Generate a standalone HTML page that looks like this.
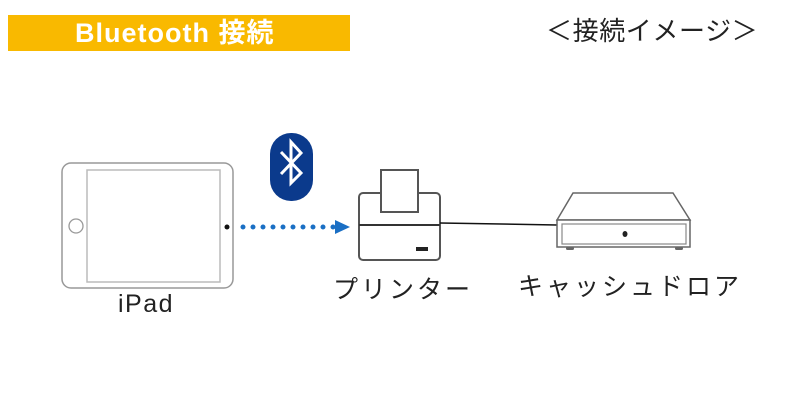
<!DOCTYPE html>
<html><head><meta charset="utf-8"><style>
body{margin:0;width:800px;height:401px;background:#fff;overflow:hidden;position:relative;font-family:"Liberation Sans","Noto Sans CJK JP",sans-serif}
.t{position:absolute;white-space:nowrap;color:#222}
</style></head><body>
<div style="position:absolute;left:8px;top:15px;width:342px;height:36px;background:#f9b900"></div>
<div class="t" style="left:75px;top:16px;font-size:27px;font-weight:bold;color:#fff;line-height:34px;letter-spacing:1px">Bluetooth 接続</div>
<div class="t" style="left:546px;top:14px;font-size:26px;line-height:34px;letter-spacing:0.6px">＜接続イメージ＞</div>
<svg width="800" height="401" style="position:absolute;left:0;top:0">
<rect x="62" y="163" width="171" height="125" rx="9" fill="#fff" stroke="#999" stroke-width="1.5"/>
<rect x="87" y="170" width="133" height="112" fill="#fff" stroke="#bbb" stroke-width="1.5"/>
<circle cx="76" cy="226" r="7" fill="#fff" stroke="#999" stroke-width="1.3"/>
<circle cx="227" cy="227" r="2.5" fill="#111"/>
<line x1="243" y1="227" x2="334" y2="227" stroke="#1a6fc4" stroke-width="5" stroke-linecap="round" stroke-dasharray="0 10"/>
<polygon points="335,220 350,227 335,234" fill="#1a6fc4"/>
<rect x="270" y="133" width="43" height="68" rx="21" fill="#0b3a8c"/>
<polyline points="281,152 301,173 291,183 291,142 301,153 281,174" fill="none" stroke="#fff" stroke-width="3" stroke-linejoin="miter"/>
<rect x="359" y="193" width="81" height="67" rx="4" fill="#fff" stroke="#555" stroke-width="2"/>
<line x1="359" y1="225" x2="440" y2="225" stroke="#333" stroke-width="2"/>
<rect x="381" y="170" width="37" height="42" fill="#fff" stroke="#555" stroke-width="2"/>
<rect x="416" y="247" width="12" height="4" fill="#222"/>
<line x1="440" y1="223" x2="557" y2="225" stroke="#111" stroke-width="1.5"/>
<polygon points="573,193 673,193 690,220 557,220" fill="#fff" stroke="#666" stroke-width="1.5"/>
<rect x="557" y="220" width="133" height="27" fill="#fff" stroke="#666" stroke-width="1.5"/>
<rect x="562" y="224" width="124" height="20" fill="#fff" stroke="#888" stroke-width="1.2"/>
<ellipse cx="625" cy="234" rx="2.5" ry="3" fill="#222"/>
<rect x="566" y="247" width="8" height="3" rx="1.5" fill="#666"/>
<rect x="675" y="247" width="8" height="3" rx="1.5" fill="#666"/>
</svg>
<div class="t" style="left:118px;top:289px;font-size:25px;line-height:30px;letter-spacing:1.5px">iPad</div>
<div class="t" style="left:333px;top:275px;font-size:25px;line-height:30px;letter-spacing:3px">プリンター</div>
<div class="t" style="left:518px;top:272px;font-size:25px;line-height:30px;letter-spacing:3px">キャッシュドロア</div>
</body></html>
